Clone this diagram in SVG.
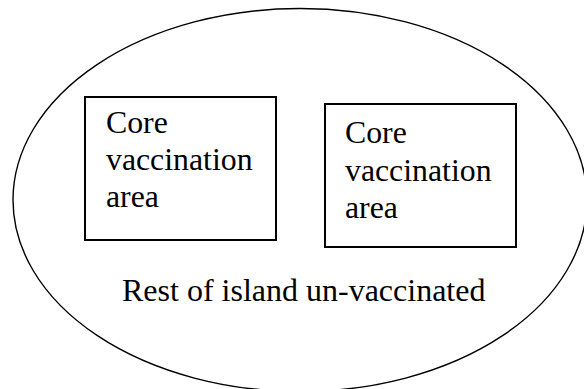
<svg xmlns="http://www.w3.org/2000/svg" width="584" height="389" viewBox="0 0 584 389">
<style>
.box{fill:#fff;stroke:#000;stroke-width:2}
.t{font-family:"Liberation Serif","Times New Roman",serif;font-size:31.8px;fill:#000}
</style>
<rect width="584" height="389" fill="#fff"/>
<g id="island">
<ellipse cx="300" cy="200" rx="287" ry="191.5" fill="none" stroke="#000" stroke-width="1.4"/>
<text class="t" x="122" y="301" style="font-size:32px">Rest of island un-vaccinated</text>
</g>
<g id="core1">
<rect class="box" x="85" y="97" width="191" height="143"/>
<text class="t" x="106" y="133">Core</text>
<text class="t" x="106" y="170">vaccination</text>
<text class="t" x="106" y="207">area</text>
</g>
<g id="core2">
<rect class="box" x="325" y="104" width="191" height="143"/>
<text class="t" x="345" y="143">Core</text>
<text class="t" x="345" y="181">vaccination</text>
<text class="t" x="345" y="218">area</text>
</g>
<g id="connectors"/>
</svg>
